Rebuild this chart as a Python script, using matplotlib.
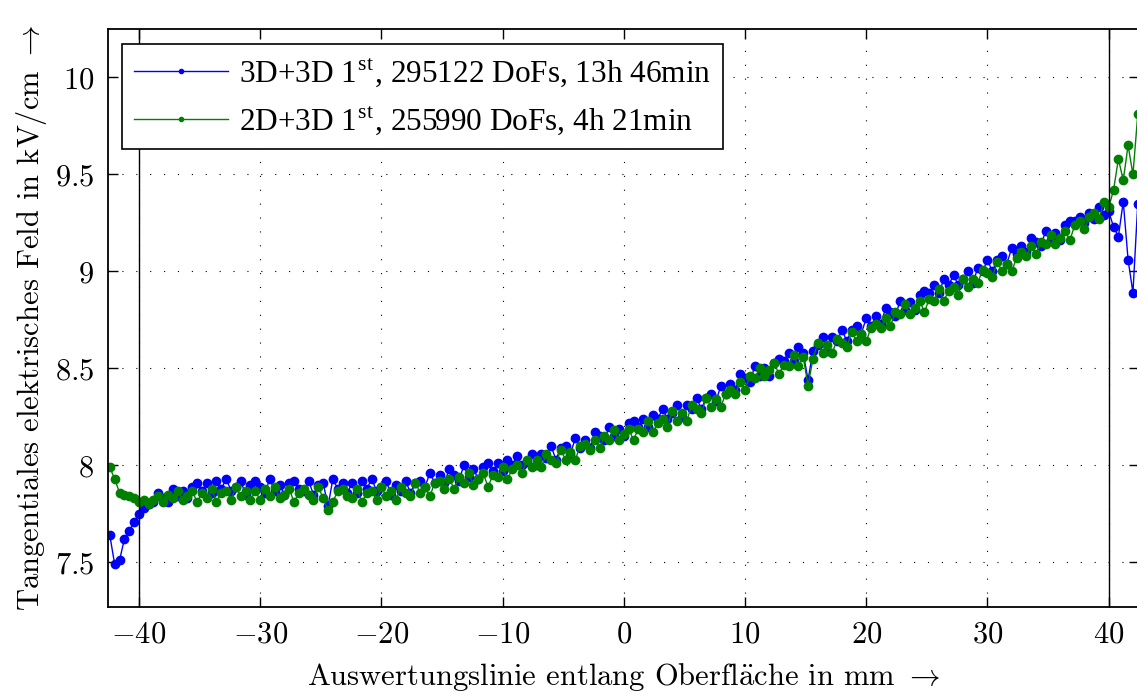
import numpy as np
import matplotlib
matplotlib.use('Agg')
import matplotlib.pyplot as plt
from matplotlib.ticker import FuncFormatter

plt.rcParams['font.family'] = ['cmr10', 'DejaVu Serif']
plt.rcParams['mathtext.fontset'] = 'cm'
plt.rcParams['axes.formatter.use_mathtext'] = True

# Auswertungslinie, Schrittweite 0.4 mm
x_mm = np.round(np.arange(-42.4, 42.41, 0.4), 1)

# 3D+3D 1st (blau)
feld_3d3d = [
    7.64, 7.49, 7.51, 7.62, 7.66, 7.71, 7.75, 7.78, 7.80, 7.81,
    7.86, 7.83, 7.81, 7.88, 7.84, 7.87, 7.83, 7.89, 7.91, 7.87,
    7.91, 7.86, 7.92, 7.88, 7.93, 7.87, 7.89, 7.92, 7.85, 7.90,
    7.92, 7.89, 7.86, 7.93, 7.87, 7.90, 7.85, 7.91, 7.92, 7.88,
    7.87, 7.92, 7.85, 7.90, 7.91, 7.79, 7.93, 7.88, 7.91, 7.86,
    7.91, 7.86, 7.92, 7.88, 7.93, 7.87, 7.89, 7.92, 7.85, 7.90,
    7.87, 7.92, 7.86, 7.91, 7.92, 7.89, 7.96, 7.91, 7.95, 7.91,
    7.98, 7.95, 7.92, 8.00, 7.94, 7.98, 7.93, 7.99, 8.01, 7.97,
    8.01, 7.97, 8.03, 8.00, 8.05, 8.00, 8.02, 8.06, 8.00, 8.06,
    8.04, 8.10, 8.03, 8.09, 8.10, 8.06, 8.14, 8.09, 8.13, 8.09,
    8.17, 8.15, 8.13, 8.20, 8.15, 8.19, 8.15, 8.22, 8.23, 8.20,
    8.24, 8.20, 8.26, 8.24, 8.29, 8.24, 8.27, 8.31, 8.25, 8.31,
    8.29, 8.35, 8.29, 8.35, 8.37, 8.33, 8.41, 8.37, 8.42, 8.39,
    8.47, 8.45, 8.43, 8.51, 8.46, 8.50, 8.46, 8.53, 8.55, 8.54,
    8.58, 8.54, 8.61, 8.58, 8.44, 8.59, 8.62, 8.66, 8.59, 8.66,
    8.64, 8.70, 8.64, 8.70, 8.72, 8.68, 8.76, 8.72, 8.77, 8.73,
    8.81, 8.79, 8.77, 8.85, 8.80, 8.84, 8.80, 8.88, 8.90, 8.89,
    8.93, 8.89, 8.96, 8.93, 8.98, 8.93, 8.96, 9.00, 8.94, 9.02,
    9.00, 9.06, 9.00, 9.06, 9.08, 9.04, 9.12, 9.09, 9.13, 9.10,
    9.17, 9.15, 9.13, 9.21, 9.16, 9.20, 9.16, 9.24, 9.26, 9.26,
    9.28, 9.25, 9.30, 9.27, 9.33, 9.29, 9.31, 9.23, 9.18, 9.36,
    9.06, 8.89, 9.35,
]

# 2D+3D 1st (gruen)
feld_2d3d = [
    7.99, 7.93, 7.86, 7.85, 7.84, 7.83, 7.81, 7.82, 7.80, 7.82,
    7.84, 7.81, 7.85, 7.83, 7.87, 7.82, 7.84, 7.87, 7.81, 7.86,
    7.83, 7.88, 7.81, 7.86, 7.87, 7.82, 7.89, 7.84, 7.87, 7.82,
    7.87, 7.82, 7.88, 7.84, 7.89, 7.83, 7.85, 7.88, 7.81, 7.86,
    7.88, 7.85, 7.82, 7.89, 7.83, 7.77, 7.81, 7.87, 7.88, 7.84,
    7.83, 7.88, 7.81, 7.86, 7.87, 7.82, 7.89, 7.84, 7.87, 7.82,
    7.89, 7.86, 7.84, 7.91, 7.86, 7.89, 7.84, 7.91, 7.92, 7.88,
    7.93, 7.88, 7.94, 7.91, 7.96, 7.90, 7.93, 7.96, 7.89, 7.95,
    7.94, 7.99, 7.93, 7.98, 8.00, 7.96, 8.03, 7.99, 8.03, 7.99,
    8.06, 8.03, 8.01, 8.08, 8.03, 8.07, 8.03, 8.10, 8.11, 8.08,
    8.13, 8.09, 8.15, 8.13, 8.18, 8.13, 8.16, 8.19, 8.13, 8.19,
    8.17, 8.23, 8.17, 8.22, 8.24, 8.20, 8.28, 8.23, 8.27, 8.23,
    8.31, 8.29, 8.27, 8.35, 8.30, 8.34, 8.30, 8.37, 8.39, 8.37,
    8.43, 8.39, 8.46, 8.45, 8.50, 8.46, 8.49, 8.53, 8.47, 8.52,
    8.51, 8.57, 8.51, 8.56, 8.41, 8.55, 8.63, 8.58, 8.62, 8.58,
    8.65, 8.63, 8.61, 8.69, 8.64, 8.68, 8.64, 8.71, 8.73, 8.71,
    8.76, 8.72, 8.79, 8.78, 8.83, 8.78, 8.81, 8.85, 8.79, 8.86,
    8.85, 8.91, 8.85, 8.90, 8.92, 8.88, 8.96, 8.92, 8.96, 8.94,
    9.01, 8.99, 8.97, 9.05, 9.00, 9.04, 9.00, 9.07, 9.10, 9.08,
    9.13, 9.09, 9.15, 9.14, 9.19, 9.14, 9.17, 9.21, 9.16, 9.24,
    9.26, 9.22, 9.28, 9.30, 9.27, 9.36, 9.33, 9.42, 9.58, 9.47,
    9.65, 9.50, 9.81,
]

labels = [
    '3D+3D 1$^{\\mathdefault{st}}$, 295122 DoFs, 13h 46min',
    '2D+3D 1$^{\\mathdefault{st}}$, 255990 DoFs, 4h 21min',
]
farben = ['#0000ff', '#008000']
x_ticks = [-40, -30, -20, -10, 0, 10, 20, 30, 40]
y_ticks = [7.5, 8, 8.5, 9, 9.5, 10]
grenzen = [-40, 40]

fig = plt.figure(figsize=(11.37, 6.96), dpi=100)
ax = fig.add_axes([108 / 1137, 1 - 607 / 696, 1031 / 1137, 578 / 696])

for y, c, lab in zip([feld_3d3d, feld_2d3d], farben, labels):
    ax.plot(x_mm, y, color=c, lw=1.0, marker='o', markersize=6.0,
            markeredgewidth=1.0, label=lab)

for g in grenzen:
    ax.axvline(g, color='k', lw=1.0)

ax.set_xlim(-42.55, 42.5)
ax.set_ylim(7.27, 10.25)
ax.set_xticks(x_ticks)
ax.set_yticks(y_ticks)
ax.xaxis.set_major_formatter(FuncFormatter(lambda v, p: f'${v:g}$'))
ax.yaxis.set_major_formatter(FuncFormatter(lambda v, p: f'${v:g}$'))
ax.tick_params(direction='in', top=True, right=True, length=7, width=1,
               labelsize=22, pad=10)
ax.grid(True, color='k', linestyle=(0, (1, 11.5)), linewidth=0.8)
for s in ax.spines.values():
    s.set_linewidth(1.3)

ax.set_xlabel('Auswertungslinie entlang Oberfl$\\ddot{\\mathrm{a}}$che in mm $\\rightarrow$',
              fontsize=22, labelpad=9)
ax.set_ylabel('Tangentiales elektrisches Feld in kV/cm $\\rightarrow$',
              fontsize=22, labelpad=4)

leg = ax.legend(loc='upper left', bbox_to_anchor=(0.0136, 0.974),
                borderaxespad=0, fancybox=False, framealpha=1,
                edgecolor='k', markerscale=0.5, handlelength=3.0,
                handletextpad=0.35, labelspacing=0.5, borderpad=0.38,
                prop={'family': 'Liberation Serif', 'size': 22.5})
leg.get_frame().set_linewidth(1.2)

fig.savefig('out.png', dpi=100)
